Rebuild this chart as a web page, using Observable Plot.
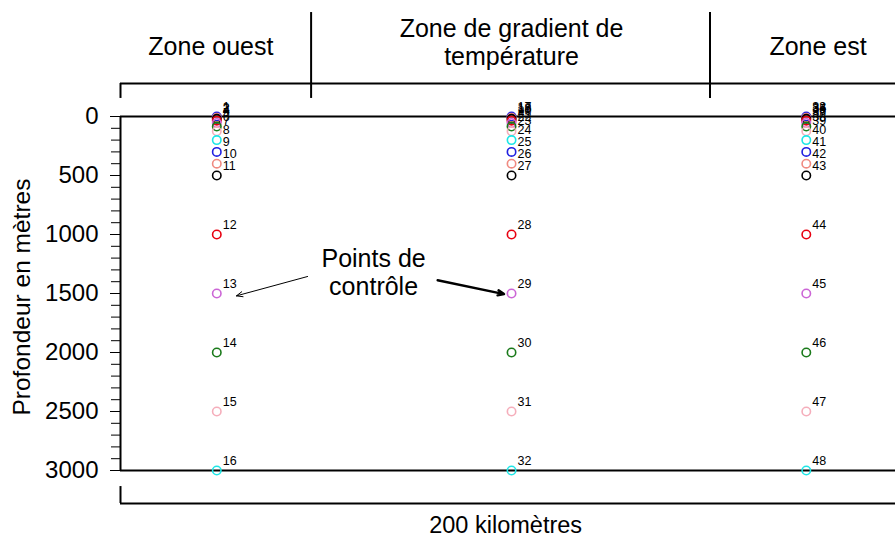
<!DOCTYPE html>
<html><head><meta charset="utf-8">
<script src="https://cdn.jsdelivr.net/npm/d3@7"></script>
<script src="https://cdn.jsdelivr.net/npm/@observablehq/plot@0.6"></script>
<style>body{margin:0;background:#fff;} svg{display:block}</style>
</head><body><div id="chart"></div>
<script>
// Columns of control points (km along the 200 km section)
const columnsKm = [24.5, 99.5, 174.5];
// Depths (m) of the 16 control points in each column
const depths = [0, 10, 20, 35, 55, 85, 125, 200, 300, 400, 500, 1000, 1500, 2000, 2500, 3000];
// Circle colours, repeating every 8 points
const palette = ["#2020e0", "#f08a80", "#000000", "#e80010", "#cc66d6", "#1a7a1a", "#f5aebb", "#1ee6e6"];
// Y axis ticks
const yTicks = [0, 500, 1000, 1500, 2000, 2500, 3000];
const yMinorTicks = d3.range(0, 3001, 100);
// Zones
const zoneBounds = [0, 48.5, 150, 200];
const zoneNames = ["Zone ouest", "Zone de gradient de\ntempérature", "Zone est"];
const zoneLabelKm = [23, 99.5, 177.5];
const zoneLabelDepth = [-595, -635, -595];
// Annotation
const annotText = "Points de\ncontrôle";
const arrows = [
  {x1: 47.6, y1: 1356, x2: 29.5, y2: 1520, w: 1},
  {x1: 80.7, y1: 1388, x2: 97.6, y2: 1505, w: 2.4}
];

const points = [];
columnsKm.forEach((x, c) => depths.forEach((d, i) => points.push({x, depth: d, id: c * 16 + i + 1, color: palette[i % 8]})));

const chart = Plot.plot({
  width: 895, height: 538,
  marginLeft: 120, marginRight: 0, marginTop: 116, marginBottom: 68,
  style: {fontFamily: "'Liberation Sans', Arial, sans-serif", background: "#fff", color: "#000"},
  x: {domain: [0, 200], range: [120, 906], axis: null},
  y: {domain: [0, 3000], range: [116, 470]},
  color: {type: "identity"},
  marks: [
    // frame
    Plot.ruleY([0, 3000], {x1: 0, x2: 200, stroke: "#000", strokeWidth: 2}),
    Plot.ruleX([0], {y1: 0, y2: 3000, stroke: "#000", strokeWidth: 2}),
    // axis
    Plot.axisY(yMinorTicks, {tickSize: 9, text: null, label: null, strokeWidth: 1}),
    Plot.axisY(yTicks, {tickSize: 10, tickPadding: 12, fontSize: 24, tickFormat: d => String(d), label: null, strokeWidth: 1}),
    Plot.text(["Profondeur en mètres"], {x: -25, y: 1530, rotate: -90, fontSize: 24.5, fill: "#000"}),
    // header brackets
    Plot.ruleY([-280], {x1: 0, x2: 200, stroke: "#000", strokeWidth: 2}),
    Plot.ruleX([0], {y1: -280, y2: -153, stroke: "#000", strokeWidth: 2}),
    Plot.ruleX(zoneBounds.slice(1, 3), {y1: -881, y2: -153, stroke: "#000", strokeWidth: 2}),
    Plot.text(zoneNames, {x: (d, i) => zoneLabelKm[i], y: (d, i) => zoneLabelDepth[i], fontSize: 25, lineHeight: 1.12, fill: "#000"}),
    // footer bracket
    Plot.ruleY([3280], {x1: 0, x2: 200, stroke: "#000", strokeWidth: 2}),
    Plot.ruleX([0], {y1: 3136, y2: 3280, stroke: "#000", strokeWidth: 2}),
    Plot.text(["200 kilomètres"], {x: 98, y: 3466, fontSize: 23.5, fill: "#000"}),
    // points
    Plot.dot(points, {x: "x", y: "depth", stroke: "color", r: 4.2, strokeWidth: 1.6, fill: "none"}),
    Plot.text(points, {x: "x", y: "depth", text: "id", dx: 6, dy: -10, textAnchor: "start", fontSize: 12.5, fill: "#000"}),
    // annotation
    Plot.text([annotText], {x: 64.4, y: 1314, fontSize: 25, lineHeight: 1.12, fill: "#000"}),
    Plot.arrow(arrows, {x1: "x1", y1: "y1", x2: "x2", y2: "y2", strokeWidth: d => d.w, stroke: "#000", headLength: 10, headAngle: 45})
  ]
});
document.getElementById("chart").appendChild(chart);
</script></body></html>
